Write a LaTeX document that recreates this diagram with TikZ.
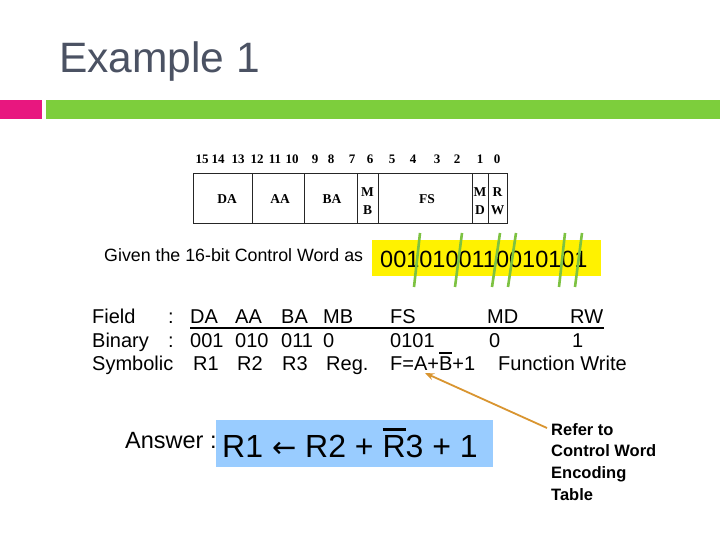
\documentclass[tikz,border=0pt]{standalone}
\usepackage{fontspec}
\setmainfont{Liberation Sans}
\newfontfamily\timesfont{Liberation Serif}
\newfontfamily\dejavu{DejaVu Sans}
\usetikzlibrary{arrows.meta}
\definecolor{titlegray}{HTML}{4B5263}
\definecolor{barpink}{HTML}{E8177F}
\definecolor{bargreen}{HTML}{7DCE3C}
\definecolor{slashgreen}{HTML}{7DC242}
\definecolor{answerblue}{HTML}{99CCFF}
\definecolor{arroworange}{HTML}{D99530}
\newcommand{\myobar}[3]{\leavevmode\setbox0\hbox{#3}\rlap{\raisebox{\dimexpr\ht0+#1\relax}{\rule{\wd0}{#2}}}\box0\relax}
\tikzset{
  txt/.style={anchor=base west, inner sep=0pt, font=\fontsize{20}{22}\selectfont},
  bitnum/.style={anchor=base, inner sep=0pt, font=\timesfont\bfseries\fontsize{13}{14}\selectfont},
  cell/.style={anchor=center, inner sep=0pt, align=center, font=\timesfont\bfseries\fontsize{13.5}{18}\selectfont},
  tline/.style={line width=1pt, black!85},
  slash/.style={line width=2.6pt, slashgreen},
  refer/.style={anchor=north west, inner sep=0pt, font=\bfseries\fontsize{16.5}{21.7}\selectfont, align=left}
}
\begin{document}
\begin{tikzpicture}[x=1pt,y=-1pt]
\useasboundingbox (0,0) rectangle (720,540);
\fill[white] (0,0) rectangle (720,540);
% title and bars
\node[anchor=base west, inner sep=0pt, text=titlegray, font=\fontsize{42.5}{46}\selectfont] (title) at (59,73) {Example 1};
\fill[barpink] (0,100) rectangle (42,119);
\fill[bargreen] (46,100) rectangle (720,119);
% table
\foreach \b/\x in {15/202,14/218,13/238,12/257,11/275,10/292,9/315,8/331,7/352,6/370,5/392,4/413,3/437,2/457,1/480,0/497}{
  \node[bitnum] (bit\b) at (\x,164) {\b};
}
\draw[tline] (193,174) rectangle (507,224);
\foreach \x in {252,304,357,378,472,488}{\draw[tline] (\x,174) -- (\x,224);}
\node[cell] (cDA) at (227,199) {DA};
\node[cell] (cAA) at (280,199) {AA};
\node[cell] (cBA) at (332,199) {BA};
\node[cell] (cMB) at (367.5,201) {M\\B};
\node[cell] (cFS) at (427,199) {FS};
\node[cell] (cMD) at (480,201) {M\\D};
\node[cell] (cRW) at (497.5,201) {R\\W};
% control word
\node[anchor=base west, inner sep=0pt, font=\fontsize{17.8}{19}\selectfont] (given) at (104,261) {Given the 16-bit Control Word as};
\node[fill=yellow, inner sep=0pt, minimum width=229pt, minimum height=36pt, anchor=north west] (ybox) at (372,240) {};
\node[anchor=base west, inner sep=0pt, font=\fontsize{23.5}{25}\selectfont] (cw) at (380,267) {0010100110010101};
\foreach \xb/\xt in {414/420,455/462,492/500,508/516,559/565,575/582}{
  \draw[slash] (\xb,287) -- (\xt,233);
}
% field rows
\node[txt] (fField) at (92,323) {Field};
\node[txt] (fc1) at (168,323) {:};
\node[txt] (fDA) at (190,323) {DA};
\node[txt] (fAA) at (235,323) {AA};
\node[txt] (fBA) at (281,323) {BA};
\node[txt] (fMB) at (323,323) {MB};
\node[txt] (fFS) at (390,323) {FS};
\node[txt] (fMD) at (487,323) {MD};
\node[txt] (fRW) at (570,323) {RW};
\draw[line width=1.3pt] (190,328) -- (604,328);
\node[txt] (bBin) at (92,347) {Binary};
\node[txt] (bc1) at (168,347) {:};
\node[txt] (bDA) at (190,347) {001};
\node[txt] (bAA) at (235,347) {010};
\node[txt] (bBA) at (281,347) {011};
\node[txt] (bMB) at (323,347) {0};
\node[txt] (bFS) at (390,347) {0101};
\node[txt] (bMD) at (489,347) {0};
\node[txt] (bRW) at (572,347) {1};
\node[txt] (sSym) at (92,370) {Symbolic};
\node[txt] (sDA) at (193,370) {R1};
\node[txt] (sAA) at (237,370) {R2};
\node[txt] (sBA) at (282,370) {R3};
\node[txt] (sMB) at (326,370) {Reg.};
\node[txt] (sFS) at (390,370) {F=A+\myobar{2.5pt}{1.4pt}{B}+1};
\node[txt] (sMD) at (498,370) {Function Write};
% answer
\node[anchor=base west, inner sep=0pt, font=\fontsize{23.5}{25}\selectfont] (anslbl) at (125,448) {Answer :};
\node[fill=answerblue, inner sep=0pt, minimum width=277pt, minimum height=47pt, anchor=north west] (ansbox) at (216,420) {};
\node[anchor=base west, inner sep=0pt, font=\fontsize{32}{34}\selectfont] (ans) at (222,457) {R1 {\dejavu\fontsize{29}{31}\selectfont ←} R2 + \myobar{4pt}{2.6pt}{R}3 + 1};
% refer note and arrow
\node[refer] (refnote) at (551,423) {Refer to\\Control Word\\Encoding\\Table};
\coordinate (arrstart) at (547,428);
\coordinate (arrend) at (425,373);
\draw[arroworange, line width=1.8pt, -{Stealth[length=9pt,width=7pt]}] (arrstart) -- (arrend);
\end{tikzpicture}
\end{document}
